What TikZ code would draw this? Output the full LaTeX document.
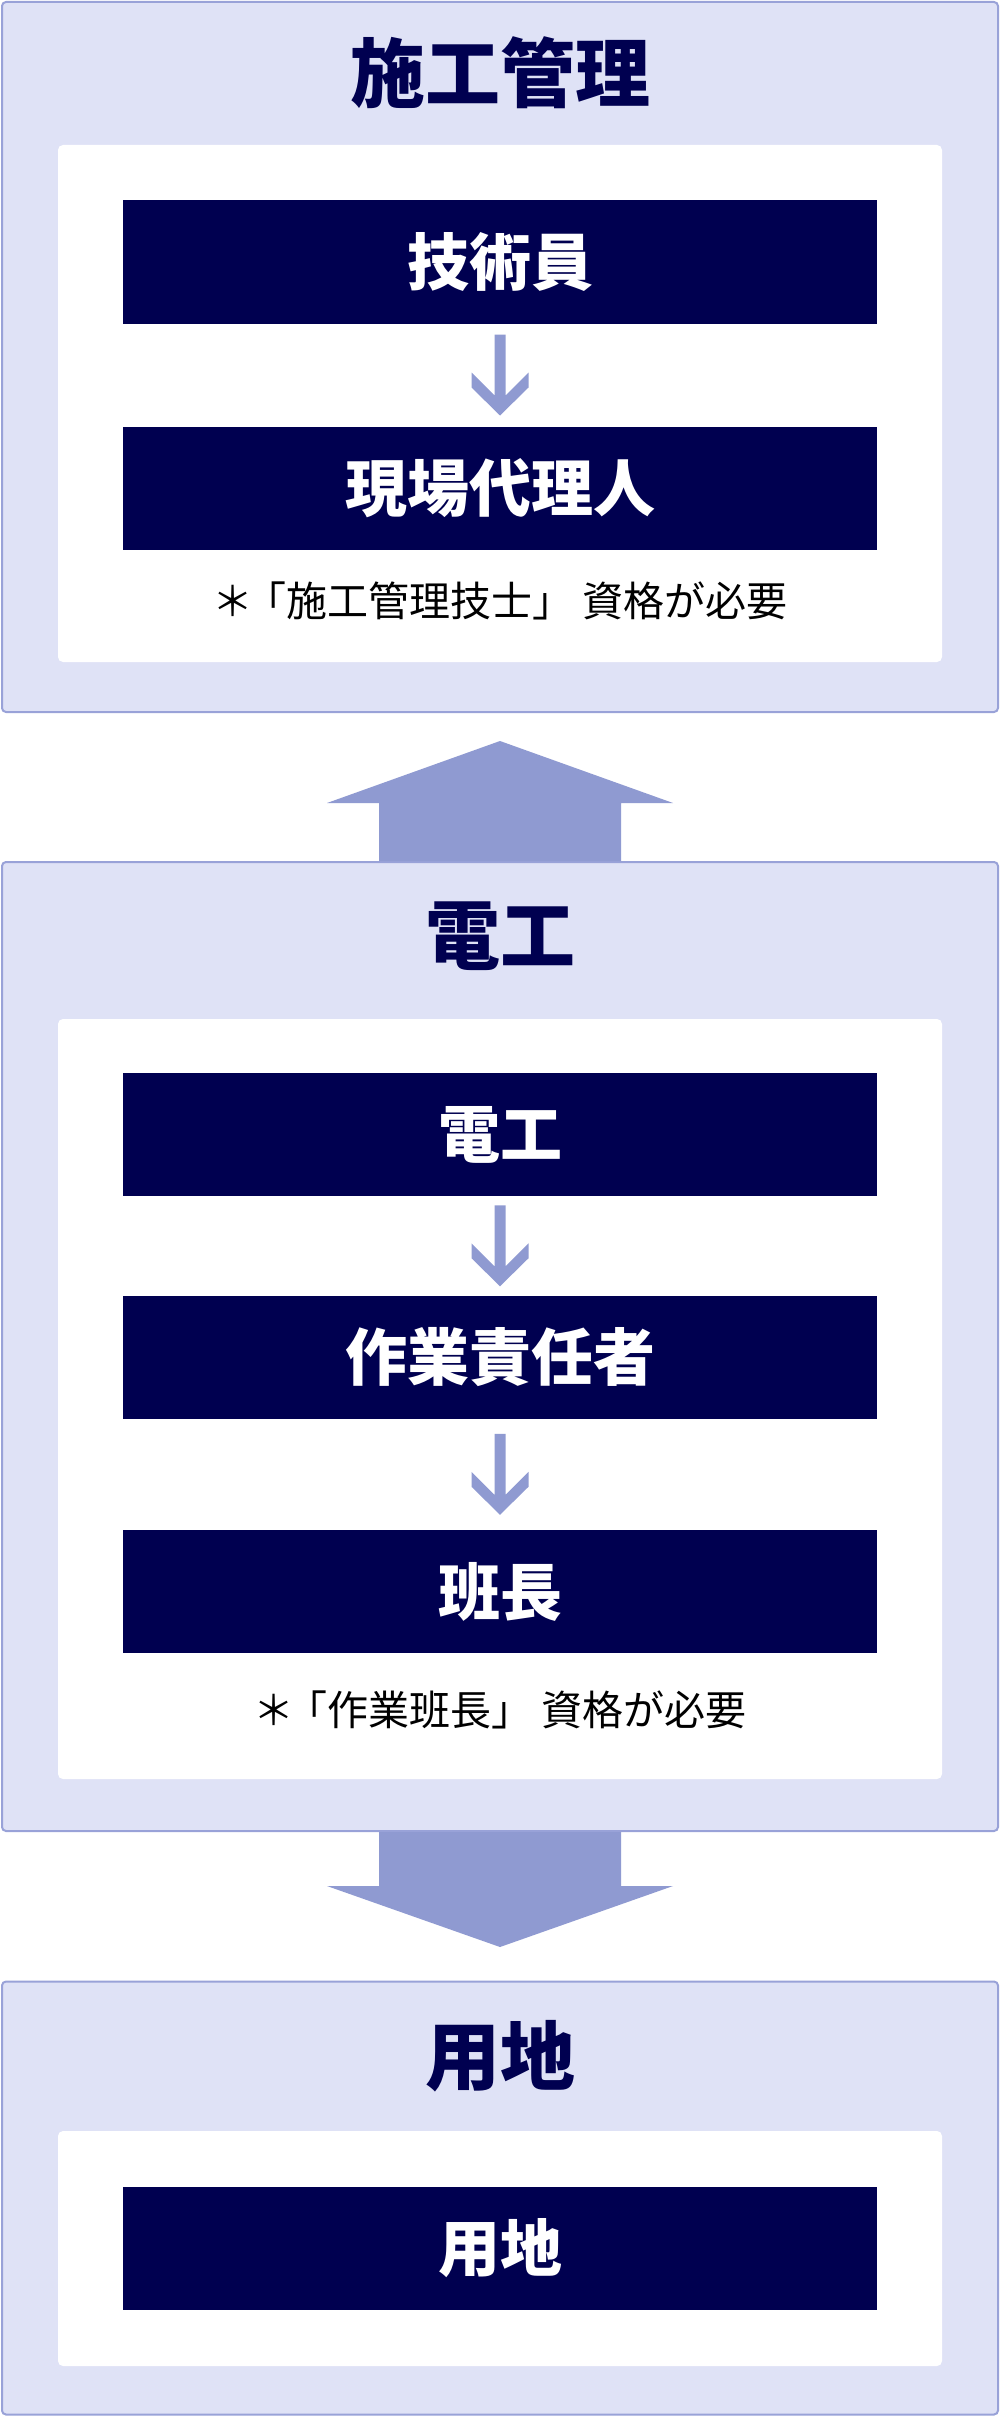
\documentclass[tikz,border=0pt]{standalone}
\usepackage{fontspec}
\setmainfont{Noto Sans CJK JP}
\usetikzlibrary{calc}
\definecolor{navy}{HTML}{000050}
\definecolor{lav}{HTML}{DFE2F6}
\definecolor{lavline}{HTML}{99A2D8}
\definecolor{arr}{HTML}{8F9AD1}
\tikzset{
  sect/.style={fill=lav, draw=lavline, line width=2pt, rounded corners=4pt, inner sep=0pt, outer sep=0pt, minimum width=996pt},
  innerbox/.style={fill=white, rounded corners=5pt, inner sep=0pt, outer sep=0pt, minimum width=884pt},
  dbox/.style={fill=navy, text=white, minimum width=754pt, minimum height=123pt, inner sep=0pt, outer sep=0pt, font=\fontsize{62}{70}\selectfont\bfseries},
  ttl/.style={text=navy, inner sep=0pt, font=\fontsize{75}{80}\selectfont\bfseries},
  notetext/.style={text=black, inner sep=0pt, font=\fontsize{41}{48}\selectfont},
}
\newcommand\smallarr[2]{%
  \coordinate (m) at ($(#1.south)!0.5!(#2.north)$);
  \fill[arr, shift={(m)}] (-5.5,-40.5) -- (5.5,-40.5) -- (5.5,20.5) -- (28.5,-2.5) -- (28.5,12.5) -- (0,40.5) -- (-28.5,12.5) -- (-28.5,-2.5) -- (-5.5,20.5) -- cycle;}
\newcommand\astmark{＊\kern-0.2em}
\begin{document}
\begin{tikzpicture}[x=1pt, y=-1pt]
\useasboundingbox (0,0) rectangle (1000,2416);
\fill[white] (0,0) rectangle (1000,2416);
% section 1
\node[sect, minimum height=710pt] (s1) at (500,357) {};
\node[innerbox, minimum height=517pt] (i1) at (500,403.5) {};
\node[ttl] (t1) at (500,73) {施工管理};
\node[dbox] (b11) at (500,262) {技術員};
\node[dbox] (b12) at (500,488) {現場代理人};
\node[notetext] (n1) at (500,601) {\astmark「施工管理技士」 資格が必要};
\smallarr{b11}{b12}
% section 2
\node[sect, minimum height=969pt] (s2) at (500,1346.5) {};
\node[innerbox, minimum height=760pt] (i2) at (500,1399) {};
\node[ttl] (t2) at (500,936) {電工};
\node[dbox] (b21) at (500,1134.5) {電工};
\node[dbox] (b22) at (500,1357) {作業責任者};
\node[dbox] (b23) at (500,1591.5) {班長};
\node[notetext] (n2) at (500,1710) {\astmark「作業班長」 資格が必要};
\smallarr{b21}{b22}
\smallarr{b22}{b23}
% section 3
\node[sect, minimum height=433pt] (s3) at (500,2198) {};
\node[innerbox, minimum height=235pt] (i3) at (500,2248.5) {};
\node[ttl] (t3) at (500,2056) {用地};
\node[dbox] (b31) at (500,2248.5) {用地};
% big arrows
\fill[arr] ($(s2.north)+(-121,-1)$) -- ($(s2.north)+(-121,-59)$) -- ($(s2.north)+(-173,-59)$)
  -- ($(s1.south)+(0,29)$) -- ($(s2.north)+(173,-59)$) -- ($(s2.north)+(121,-59)$)
  -- ($(s2.north)+(121,-1)$) -- cycle;
\fill[arr] ($(s2.south)+(-121,1)$) -- ($(s2.south)+(-121,55)$) -- ($(s2.south)+(-173,55)$)
  -- ($(s2.south)+(0,116)$) -- ($(s2.south)+(173,55)$) -- ($(s2.south)+(121,55)$)
  -- ($(s2.south)+(121,1)$) -- cycle;
\end{tikzpicture}
\end{document}
